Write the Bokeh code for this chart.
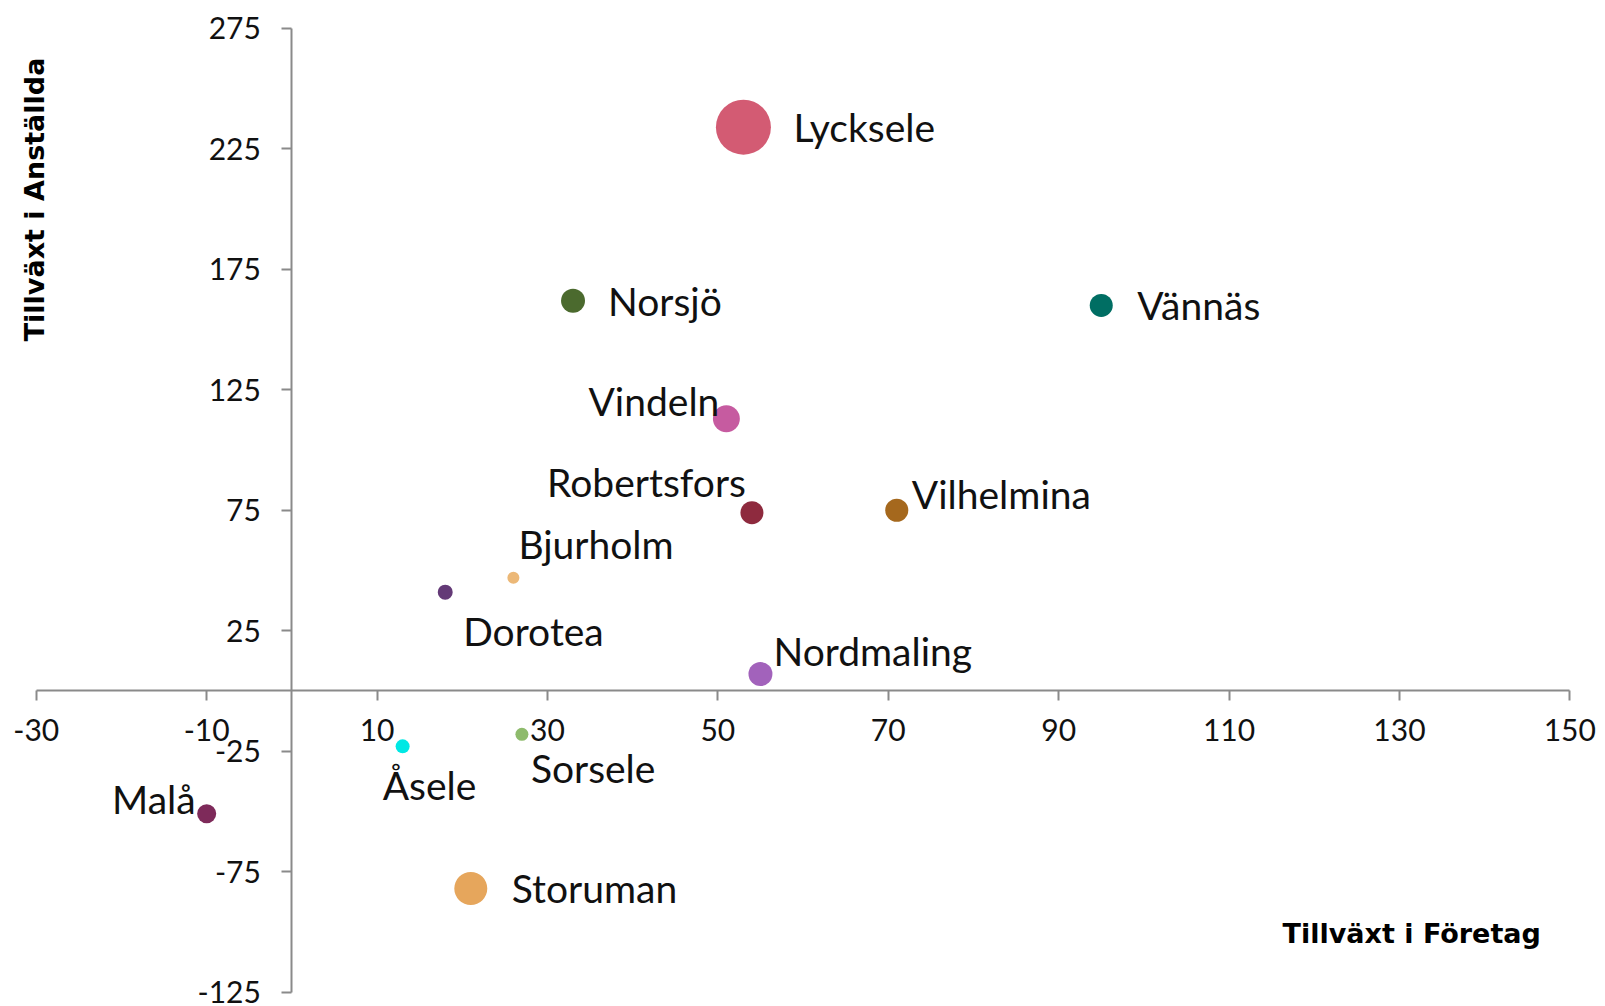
import math
from bokeh.plotting import figure
from bokeh.models import ColumnDataSource, Label, FixedTicker, CustomJSTickFormatter, Range1d
from bokeh.embed import file_html
from bokeh.resources import INLINE
from bokeh.core.properties import value

# ---- data ----
kommuner = ["Lycksele", "Norsjö", "Vännäs", "Vindeln", "Robertsfors", "Vilhelmina",
            "Bjurholm", "Dorotea", "Nordmaling", "Åsele", "Sorsele", "Malå", "Storuman"]
tillvaxt_foretag = [53, 33, 95, 51, 54, 71, 26, 18, 55, 13, 27, -10, 21]
tillvaxt_anstallda = [234, 162, 160, 113, 74, 75, 47, 41, 7, -23, -18, -51, -82]
storlek = [100, 19, 17.5, 24, 17.5, 17.5, 4.8, 7.4, 19, 6.5, 5.6, 12, 36]
x_ticks = [-30, -10, 10, 30, 50, 70, 90, 110, 130, 150]
y_ticks = [-125, -75, -25, 25, 75, 125, 175, 225, 275]

# ---- styles ----
farger = ["#D35B73", "#4B6A2E", "#006E63", "#C65BA0", "#8E2A3E", "#A5681D",
          "#ECB877", "#643A77", "#A262BB", "#00E8E4", "#8EBB6C", "#7E2A5A", "#E6A65C"]
label_align = ["left", "left", "left", "right", "right", "left",
               "left", "left", "left", "left", "left", "right", "left"]
label_dx = [50, 35, 36, -7, -6, 15, 5, 18, 13, -20, 9, -11, 41]
label_dy = [0, 0, 0, -18, -31, -16, -34, 39, -23, 39, 34, -15, 0]
MAX_D = 55

diam = [MAX_D * math.sqrt(s / max(storlek)) for s in storlek]

src = ColumnDataSource(dict(x=tillvaxt_foretag, y=tillvaxt_anstallda, namn=kommuner,
                            d=diam, c=farger, al=label_align, dx=label_dx, dy=label_dy))

p = figure(width=1600, height=1006,
           x_range=Range1d(-34.2, 153.6), y_range=Range1d(-131.0, 286.6),
           output_backend="svg", toolbar_location=None,
           min_border_left=0, min_border_right=0, min_border_top=0, min_border_bottom=0)
p.outline_line_color = None
p.grid.visible = False
p.background_fill_color = "white"
p.border_fill_color = "white"

fmt = CustomJSTickFormatter(code="return tick.toString();")
for ax in (p.xaxis[0], p.yaxis[0]):
    ax.fixed_location = 0
    ax.axis_line_color = "#8A8A8A"
    ax.axis_line_width = 2
    ax.major_tick_line_color = "#8A8A8A"
    ax.major_tick_line_width = 2
    ax.major_tick_out = 10
    ax.major_tick_in = 0
    ax.minor_tick_line_color = None
    ax.major_label_text_font = "Lato"
    ax.major_label_text_font_size = "30px"
    ax.major_label_text_color = "#111111"
    ax.formatter = fmt

p.xaxis.ticker = FixedTicker(ticks=x_ticks)
p.yaxis.ticker = FixedTicker(ticks=y_ticks)
p.xaxis.bounds = (x_ticks[0], x_ticks[-1])
p.yaxis.bounds = (y_ticks[0], y_ticks[-1])
p.xaxis.major_label_standoff = 18
p.yaxis.major_label_standoff = 21

p.scatter(x="x", y="y", size="d", fill_color="c", line_color=None, source=src)

p.text(x="x", y="y", text="namn", x_offset="dx", y_offset="dy", text_align="al",
       text_baseline="middle", text_font=value("Lato"), text_font_size="39px",
       text_color="#111111", source=src)

p.add_layout(Label(x=146.6, y=-100.9, text="Tillväxt i Företag", text_align="right",
                   text_baseline="middle", text_font="DejaVu Sans", text_font_style="bold",
                   text_font_size="27px", text_color="#000000"))
p.add_layout(Label(x=-30.2, y=204, text="Tillväxt i Anställda", angle=math.pi / 2,
                   text_align="center", text_baseline="middle", text_font="DejaVu Sans",
                   text_font_style="bold", text_font_size="27px", text_color="#000000"))

open("out.html", "w").write(file_html(p, INLINE))
